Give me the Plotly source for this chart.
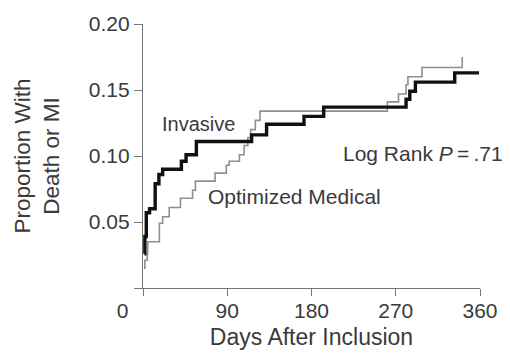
import plotly.graph_objects as go

# Kaplan-Meier step data (days, cumulative proportion with death or MI)
invasive_days = [1.5, 2, 3.5, 7, 13, 17, 21, 41, 46, 57, 116, 132, 172, 193, 281, 285, 291, 333, 359]
invasive_prop = [0.026, 0.039, 0.057, 0.060, 0.079, 0.086, 0.090, 0.096, 0.101, 0.111, 0.116, 0.124,
                 0.130, 0.137, 0.143, 0.149, 0.156, 0.163, 0.163]

medical_days = [1, 2, 4.5, 5, 17.5, 21, 28, 40, 53, 56, 77, 89, 92, 103, 108, 112, 115, 120, 125,
                261, 273, 281, 283, 298, 341]
medical_prop = [0.015, 0.021, 0.026, 0.035, 0.049, 0.054, 0.061, 0.068, 0.074, 0.081, 0.087, 0.093,
                0.096, 0.101, 0.108, 0.114, 0.120, 0.127, 0.134, 0.141, 0.147, 0.154, 0.160, 0.167,
                0.175]

x_ticks = [0, 90, 180, 270, 360]
x_tick_text = ["0" + "\u00a0" * 7, "90", "180", "270", "360"]
y_ticks = [0, 0.05, 0.10, 0.15, 0.20]
y_tick_text = ["", "0.05", "0.10", "0.15", "0.20"]

FONT = "Liberation Sans, Arial, sans-serif"
TXT = "#3a3a3a"
AX = "#777777"

fig = go.Figure()
fig.add_trace(go.Scatter(x=medical_days, y=medical_prop, mode="lines", line_shape="hv",
                         line=dict(color="#8f8f8f", width=1.6), name="Optimized Medical",
                         showlegend=False))
fig.add_trace(go.Scatter(x=invasive_days, y=invasive_prop, mode="lines", line_shape="hv",
                         line=dict(color="#111111", width=3.4), name="Invasive",
                         showlegend=False))

fig.add_annotation(x=18, y=0.124, text="Invasive", showarrow=False, xanchor="left",
                   yanchor="middle", font=dict(family=FONT, size=20, color=TXT))
fig.add_annotation(x=67, y=0.069, text="Optimized Medical", showarrow=False, xanchor="left",
                   yanchor="middle", font=dict(family=FONT, size=21, color=TXT))
fig.add_annotation(x=211, y=0.102, text="Log Rank <i>P</i>\u2009=\u2009.71", showarrow=False,
                   xanchor="left", yanchor="middle", font=dict(family=FONT, size=21, color=TXT))
# y-axis title (two lines, rotated)
fig.add_annotation(xref="paper", yref="paper", x=(34 - 143) / 345, y=0.5,
                   text="Proportion With<br>Death or MI", textangle=-90, showarrow=False,
                   xanchor="center", yanchor="middle",
                   font=dict(family=FONT, size=22.5, color=TXT))

fig.update_layout(
    width=510, height=357,
    margin=dict(l=143, r=22, t=18, b=67),
    paper_bgcolor="white", plot_bgcolor="white",
    font=dict(family=FONT, size=21, color=TXT),
    xaxis=dict(range=[0, 360], tickvals=x_ticks, ticktext=x_tick_text, ticks="outside",
               ticklen=7, tickcolor=AX, tickwidth=1.3, showline=True, linecolor=AX,
               linewidth=1.3, showgrid=False, zeroline=False, ticklabelstandoff=-3,
               title=dict(text="Days After Inclusion", font=dict(size=23, color=TXT), standoff=7),
               tickfont=dict(size=21, color=TXT)),
    yaxis=dict(range=[0, 0.2], tickvals=y_ticks, ticktext=y_tick_text, ticks="outside",
               ticklen=8, tickcolor=AX, tickwidth=1.3, showline=True, linecolor=AX,
               linewidth=1.3, showgrid=False, zeroline=False,
               tickfont=dict(size=21, color=TXT)),
)

fig.write_html("out.html")
